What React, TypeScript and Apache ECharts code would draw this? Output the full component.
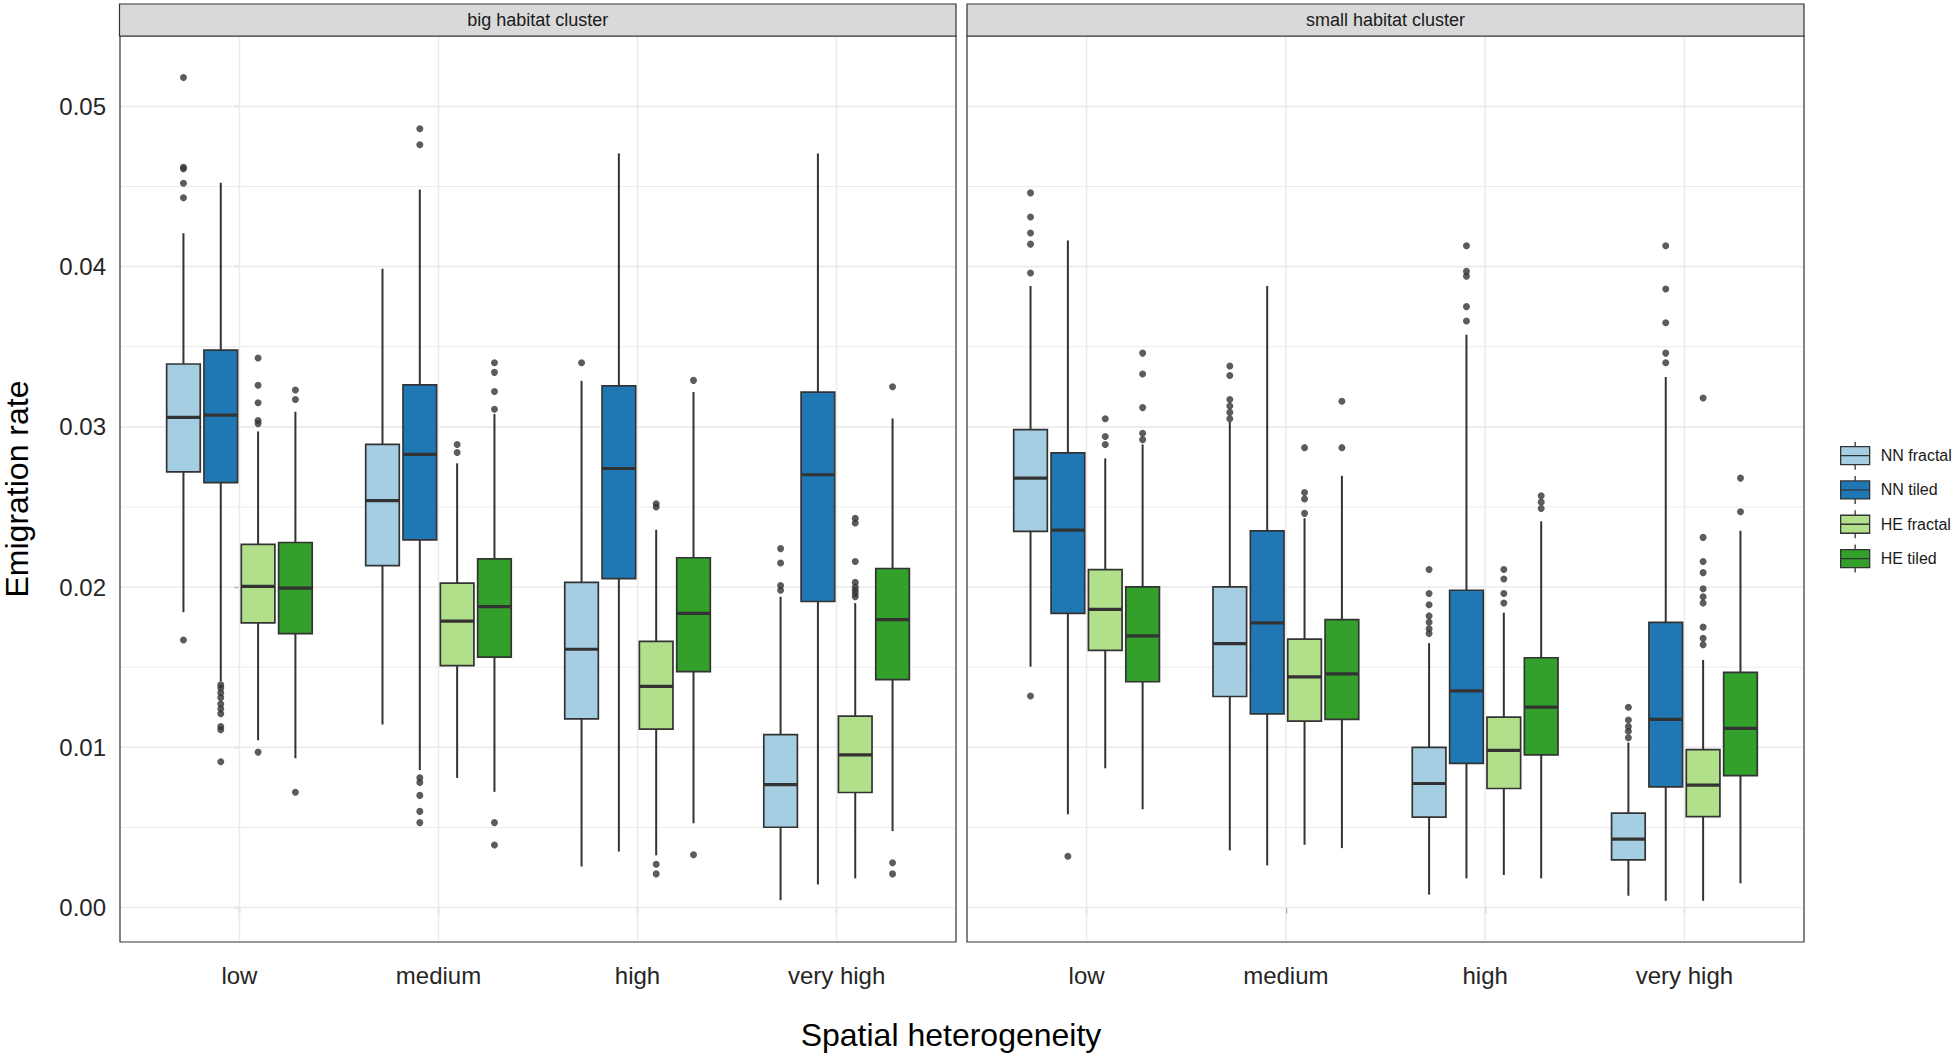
import React, { useEffect, useRef } from "react";
import * as echarts from "echarts";

// ---------- data ----------
const categories = ["low", "medium", "high", "very high"];
const groups = ["NN fractal", "NN tiled", "HE fractal", "HE tiled"];
const groupColors = ["#A6CEE3", "#1F78B4", "#B2DF8A", "#33A02C"];
const panelTitles = ["big habitat cluster", "small habitat cluster"];
const yTicks = [0, 0.01, 0.02, 0.03, 0.04, 0.05];
const yMinorTicks = [0.005, 0.015, 0.025, 0.035, 0.045];
const xTicks = [0, 1, 2, 3];

// box stats per category: [lower whisker, Q1, median, Q3, upper whisker]
// big habitat cluster
const bigNNfractal = [
  [0.01843, 0.02719, 0.03059, 0.03392, 0.04208],
  [0.01142, 0.02134, 0.0254, 0.02891, 0.03987],
  [0.00256, 0.01177, 0.01612, 0.02029, 0.03287],
  [0.00046, 0.00501, 0.00767, 0.01079, 0.0194],
];
const bigNNtiled = [
  [0.01412, 0.02652, 0.03073, 0.03479, 0.04523],
  [0.00858, 0.02295, 0.02828, 0.03262, 0.04481],
  [0.0035, 0.02053, 0.0274, 0.03255, 0.04706],
  [0.00144, 0.0191, 0.02701, 0.03217, 0.04706],
];
const bigHEfractal = [
  [0.01044, 0.01776, 0.02004, 0.02267, 0.02971],
  [0.00809, 0.0151, 0.01787, 0.02025, 0.02772],
  [0.00326, 0.01114, 0.0138, 0.01661, 0.02358],
  [0.00182, 0.00718, 0.00953, 0.01195, 0.019],
];
const bigHEtiled = [
  [0.00932, 0.0171, 0.01994, 0.02278, 0.03094],
  [0.00722, 0.01563, 0.01878, 0.02176, 0.0308],
  [0.00526, 0.01472, 0.01836, 0.02183, 0.03217],
  [0.00477, 0.01423, 0.01797, 0.02116, 0.03052],
];
// small habitat cluster
const smallNNfractal = [
  [0.01503, 0.02348, 0.0268, 0.02982, 0.03879],
  [0.00357, 0.01317, 0.01647, 0.02001, 0.0303],
  [0.00081, 0.00564, 0.00774, 0.00999, 0.0165],
  [0.00074, 0.00298, 0.00427, 0.00589, 0.0103],
];
const smallNNtiled = [
  [0.00582, 0.01836, 0.02355, 0.02838, 0.04163],
  [0.00263, 0.01209, 0.01776, 0.02351, 0.03879],
  [0.00182, 0.009, 0.01352, 0.0198, 0.03574],
  [0.00042, 0.00753, 0.01174, 0.0178, 0.03311],
];
const smallHEfractal = [
  [0.00869, 0.01605, 0.01861, 0.02109, 0.02803],
  [0.00392, 0.01163, 0.0144, 0.01675, 0.0243],
  [0.00203, 0.00743, 0.00981, 0.01188, 0.0184],
  [0.00042, 0.00568, 0.00764, 0.00985, 0.01545],
];
const smallHEtiled = [
  [0.00613, 0.01409, 0.01696, 0.02001, 0.0289],
  [0.00371, 0.01174, 0.01458, 0.01797, 0.02694],
  [0.00182, 0.00953, 0.01251, 0.01559, 0.0241],
  [0.00151, 0.00823, 0.01118, 0.01468, 0.02351],
];

// outliers: [category index, value]
const bigNNfractalOut = [
  [0, 0.0518], [0, 0.0462], [0, 0.0461], [0, 0.0452], [0, 0.0443], [0, 0.0167],
  [2, 0.034],
  [3, 0.0224], [3, 0.0215], [3, 0.0201], [3, 0.0198],
];
const bigNNtiledOut = [
  [0, 0.0139], [0, 0.0137], [0, 0.0134], [0, 0.0131], [0, 0.0127], [0, 0.0124],
  [0, 0.0121], [0, 0.0113], [0, 0.0111], [0, 0.0091],
  [1, 0.0486], [1, 0.0476], [1, 0.0081], [1, 0.0078], [1, 0.007], [1, 0.006], [1, 0.0053],
];
const bigHEfractalOut = [
  [0, 0.0343], [0, 0.0326], [0, 0.0315], [0, 0.0304], [0, 0.0302], [0, 0.0097],
  [1, 0.0289], [1, 0.0284],
  [2, 0.0252], [2, 0.025], [2, 0.0027], [2, 0.0021],
  [3, 0.0243], [3, 0.024], [3, 0.0216], [3, 0.0203], [3, 0.02], [3, 0.0198], [3, 0.0196], [3, 0.0194],
];
const bigHEtiledOut = [
  [0, 0.0323], [0, 0.0317], [0, 0.0072],
  [1, 0.034], [1, 0.0334], [1, 0.0322], [1, 0.0311], [1, 0.0053], [1, 0.0039],
  [2, 0.0329], [2, 0.0033],
  [3, 0.0325], [3, 0.0028], [3, 0.0021],
];
const smallNNfractalOut = [
  [0, 0.0446], [0, 0.0431], [0, 0.0421], [0, 0.0414], [0, 0.0396], [0, 0.0132],
  [1, 0.0338], [1, 0.0332], [1, 0.0317], [1, 0.0313], [1, 0.0309], [1, 0.0305],
  [2, 0.0211], [2, 0.0196], [2, 0.0189], [2, 0.0182], [2, 0.0178], [2, 0.0174], [2, 0.0171],
  [3, 0.0125], [3, 0.0117], [3, 0.0113], [3, 0.011], [3, 0.0106],
];
const smallNNtiledOut = [
  [0, 0.0032],
  [2, 0.0413], [2, 0.0397], [2, 0.0394], [2, 0.0375], [2, 0.0366],
  [3, 0.0413], [3, 0.0386], [3, 0.0365], [3, 0.0346], [3, 0.034],
];
const smallHEfractalOut = [
  [0, 0.0305], [0, 0.0294], [0, 0.0289],
  [1, 0.0287], [1, 0.0259], [1, 0.0255], [1, 0.0246],
  [2, 0.0211], [2, 0.0205], [2, 0.0196], [2, 0.019],
  [3, 0.0318], [3, 0.0231], [3, 0.0216], [3, 0.0209], [3, 0.0199], [3, 0.0194], [3, 0.019],
  [3, 0.0175], [3, 0.0168], [3, 0.0164],
];
const smallHEtiledOut = [
  [0, 0.0346], [0, 0.0333], [0, 0.0312], [0, 0.0296], [0, 0.0292],
  [1, 0.0316], [1, 0.0287],
  [2, 0.0257], [2, 0.0253], [2, 0.0249],
  [3, 0.0268], [3, 0.0247],
];

const panelStats = [
  [bigNNfractal, bigNNtiled, bigHEfractal, bigHEtiled],
  [smallNNfractal, smallNNtiled, smallHEfractal, smallHEtiled],
];
const panelOutliers = [
  [bigNNfractalOut, bigNNtiledOut, bigHEfractalOut, bigHEtiledOut],
  [smallNNfractalOut, smallNNtiledOut, smallHEfractalOut, smallHEtiledOut],
];

// ---------- layout ----------
const FONT = "'Liberation Sans', Arial, sans-serif";
const GRIDS = [
  { left: 119.5, top: 36, width: 836.5, height: 906 },
  { left: 967, top: 36, width: 837, height: 906 },
];
const STRIP_TOP = 4;
const X_MIN = -0.6;
const X_MAX = 3.6;
const Y_MIN = -0.00215;
const Y_MAX = 0.05439;
const DODGE_STEP = 0.1875;
const BOX_W = 0.16875;
const dodge = [-1.5, -0.5, 0.5, 1.5].map((k) => k * DODGE_STEP);
const OUTLINE = "#333333";

function boxRender(gi: number) {
  return (params: any, api: any) => {
    const x = api.value(0) + dodge[gi];
    const lo = api.value(1);
    const q1 = api.value(2);
    const md = api.value(3);
    const q3 = api.value(4);
    const hi = api.value(5);
    const xL = api.coord([x - BOX_W / 2, q1])[0];
    const xR = api.coord([x + BOX_W / 2, q1])[0];
    const xc = api.coord([x, q1])[0];
    const yLo = api.coord([x, lo])[1];
    const yQ1 = api.coord([x, q1])[1];
    const yMd = api.coord([x, md])[1];
    const yQ3 = api.coord([x, q3])[1];
    const yHi = api.coord([x, hi])[1];
    const ls = { stroke: OUTLINE, lineWidth: 2 };
    return {
      type: "group",
      children: [
        { type: "line", shape: { x1: xc, y1: yHi, x2: xc, y2: yQ3 }, style: ls },
        { type: "line", shape: { x1: xc, y1: yQ1, x2: xc, y2: yLo }, style: ls },
        {
          type: "rect",
          shape: { x: xL, y: yQ3, width: xR - xL, height: yQ1 - yQ3 },
          style: { fill: api.visual("color"), stroke: OUTLINE, lineWidth: 1.7 },
        },
        {
          type: "line",
          shape: { x1: xL, y1: yMd, x2: xR, y2: yMd },
          style: { stroke: OUTLINE, lineWidth: 3.2 },
        },
      ],
    };
  };
}

function gridLineRender(params: any, api: any) {
  const cs = params.coordSys;
  const orient = api.value(0);
  const v = api.value(1);
  const minor = api.value(2) === 1;
  const style = { stroke: "#EBEBEB", lineWidth: minor ? 1 : 1.6 };
  if (orient === 0) {
    const y = api.coord([0, v])[1];
    return { type: "line", shape: { x1: cs.x + 1, y1: y, x2: cs.x + cs.width - 1, y2: y }, style };
  }
  const x = api.coord([v, 0])[0];
  return { type: "line", shape: { x1: x, y1: cs.y + 1, x2: x, y2: cs.y + cs.height - 1 }, style };
}

const gridLineData = [
  ...yTicks.map((v) => [0, v, 0]),
  ...yMinorTicks.map((v) => [0, v, 1]),
  ...xTicks.map((v) => [1, v, 0]),
];

export default function App() {
  const ref = useRef<HTMLDivElement>(null);

  useEffect(() => {
    if (!ref.current) return;
    const chart = echarts.init(ref.current, undefined, { renderer: "svg" });

    const grid = GRIDS.map((g) => ({
      left: g.left,
      top: g.top,
      width: g.width,
      height: g.height,
      show: true,
      backgroundColor: "#FFFFFF",
      borderColor: OUTLINE,
      borderWidth: 1.2,
      containLabel: false,
    }));

    const xAxis = GRIDS.map((_, pi) => ({
      type: "value",
      gridIndex: pi,
      min: X_MIN,
      max: X_MAX,
      axisLine: { show: false },
      splitLine: { show: false },
      axisTick: {
        show: true,
        customValues: xTicks,
        length: 6,
        lineStyle: { color: OUTLINE, width: 1.2 },
      },
      axisLabel: {
        show: true,
        customValues: xTicks,
        formatter: (v: number) => categories[Math.round(v)] ?? "",
        fontFamily: FONT,
        fontSize: 24,
        color: "#262626",
        margin: 21,
      },
    }));

    const yAxis = GRIDS.map((_, pi) => ({
      type: "value",
      gridIndex: pi,
      min: Y_MIN,
      max: Y_MAX,
      axisLine: { show: false },
      splitLine: { show: false },
      name: pi === 0 ? "Emigration rate" : "",
      nameLocation: "middle",
      nameGap: 87,
      nameTextStyle: { fontFamily: FONT, fontSize: 32, color: "#000000" },
      axisTick: {
        show: pi === 0,
        customValues: yTicks,
        length: 5,
        lineStyle: { color: OUTLINE, width: 1.2 },
      },
      axisLabel: {
        show: pi === 0,
        customValues: yTicks,
        formatter: (v: number) => v.toFixed(2),
        fontFamily: FONT,
        fontSize: 24,
        color: "#262626",
        margin: 14,
      },
    }));

    const series: any[] = [];
    GRIDS.forEach((_, pi) => {
      series.push({
        type: "custom",
        name: "grid" + pi,
        xAxisIndex: pi,
        yAxisIndex: pi,
        renderItem: gridLineRender,
        data: gridLineData,
        silent: true,
        z: 1,
      });
      groups.forEach((gname, gi) => {
        series.push({
          type: "custom",
          name: gname,
          xAxisIndex: pi,
          yAxisIndex: pi,
          itemStyle: { color: groupColors[gi] },
          renderItem: boxRender(gi),
          encode: { x: 0, y: [1, 2, 3, 4, 5] },
          data: panelStats[pi][gi].map((s, ci) => [ci, ...s]),
          z: 2,
        });
        series.push({
          type: "scatter",
          name: gname + " outliers",
          xAxisIndex: pi,
          yAxisIndex: pi,
          symbol: "circle",
          symbolSize: 7,
          itemStyle: { color: OUTLINE },
          data: panelOutliers[pi][gi].map(([ci, v]) => [ci + dodge[gi], v]),
          z: 3,
        });
      });
    });

    const graphic: any[] = [];
    GRIDS.forEach((g, pi) => {
      graphic.push({
        type: "rect",
        shape: { x: g.left, y: STRIP_TOP, width: g.width, height: g.top - STRIP_TOP },
        style: { fill: "#D9D9D9", stroke: OUTLINE, lineWidth: 1.2 },
        z: 10,
      });
      graphic.push({
        type: "text",
        x: g.left + g.width / 2,
        y: (STRIP_TOP + g.top) / 2,
        style: {
          text: panelTitles[pi],
          fontFamily: FONT,
          fontSize: 18,
          fill: "#1A1A1A",
          align: "center",
          verticalAlign: "middle",
        },
        z: 11,
      });
    });
    graphic.push({
      type: "text",
      x: 951,
      y: 1035,
      style: {
        text: "Spatial heterogeneity",
        fontFamily: FONT,
        fontSize: 32,
        fill: "#000000",
        align: "center",
        verticalAlign: "middle",
      },
    });

    chart.setOption({
      animation: false,
      backgroundColor: "#FFFFFF",
      grid,
      xAxis,
      yAxis,
      series,
      graphic,
      legend: {
        show: true,
        data: groups,
        orient: "vertical",
        left: 1840,
        top: 441,
        padding: 0,
        itemWidth: 29,
        itemHeight: 28,
        itemGap: 5,
        icon: "path://M0,5 L29,5 L29,23 L0,23 Z M14.5,0 L14.5,5 M14.5,23 L14.5,28 M0,14 L29,14",
        itemStyle: { borderColor: OUTLINE, borderWidth: 1.3 },
        textStyle: {
          fontFamily: FONT,
          fontSize: 16,
          color: "#1A1A1A",
          padding: [0, 0, 0, 6],
        },
        selectedMode: false,
      },
    });

    return () => chart.dispose();
  }, []);

  return (
    <div
      ref={ref}
      style={{ position: "fixed", left: 0, top: 0, width: 1960, height: 1057, background: "#fff" }}
    />
  );
}
